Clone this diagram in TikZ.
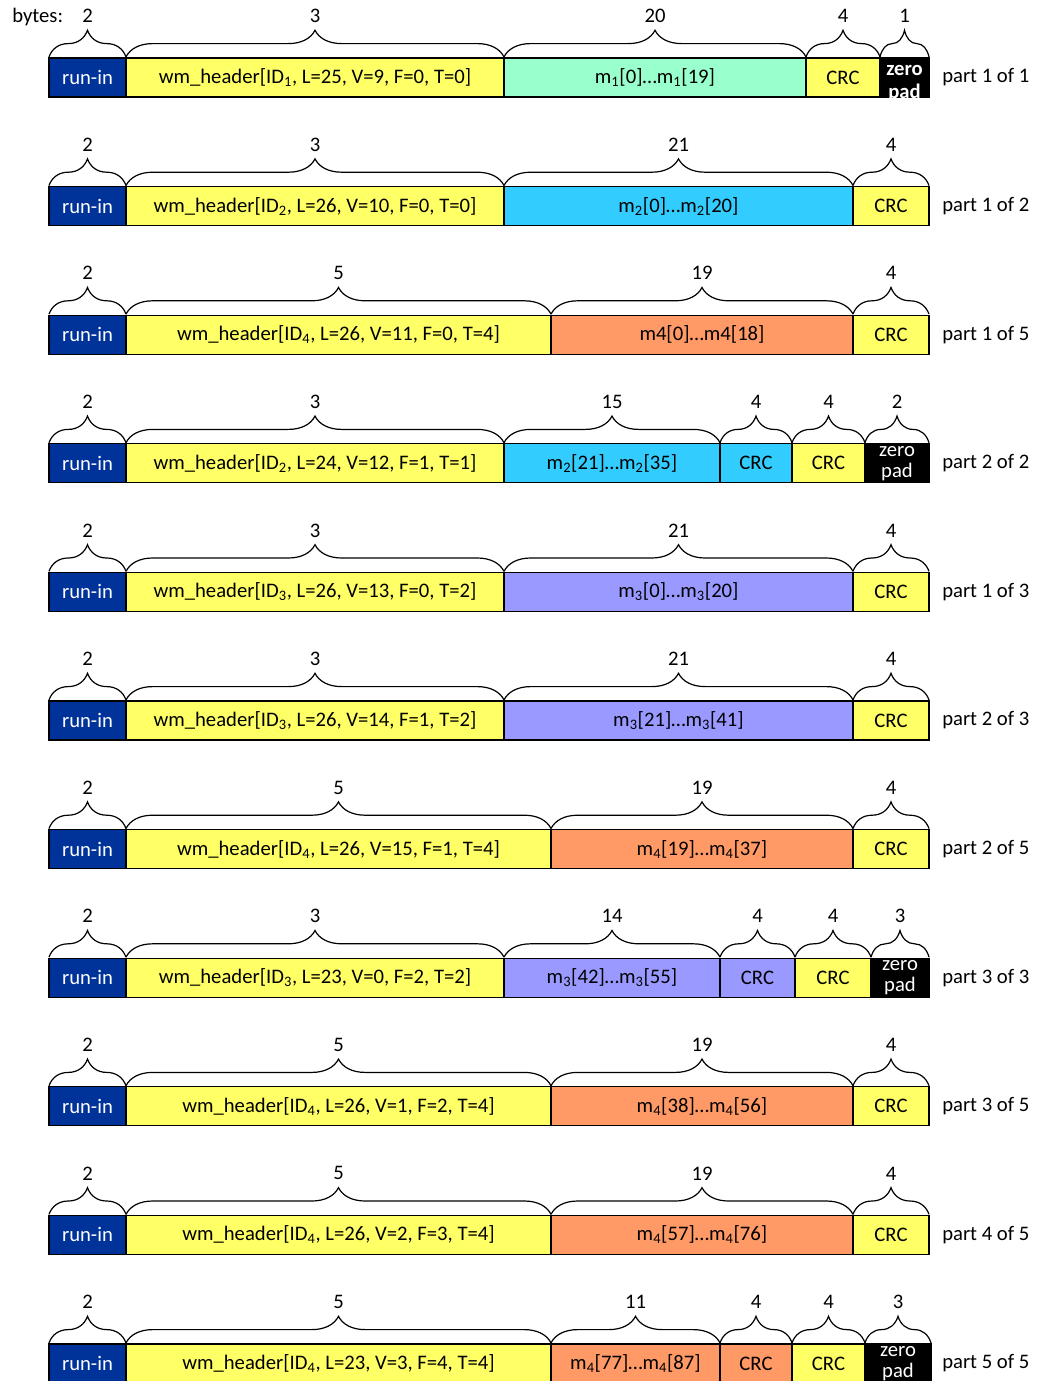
\documentclass[tikz,border=0pt]{standalone}
\usepackage{fontspec}
\setmainfont{Carlito}
\usetikzlibrary{decorations.pathreplacing,calc}
\definecolor{runinc}{RGB}{0,51,153}
\definecolor{yelc}{RGB}{255,255,102}
\definecolor{grnc}{RGB}{153,255,204}
\definecolor{cyac}{RGB}{51,204,255}
\definecolor{orac}{RGB}{255,153,102}
\definecolor{purc}{RGB}{153,153,255}
\newcommand\sbs[1]{\textsubscript{#1}}
\newcommand\mkseg[7]{%
  \pgfmathsetmacro\segtop{58+128.6*(#4-1)}%
  \node[segbox,#5,minimum width={(#3-#2)*0.75pt}] (#1) at ({(#2+#3)/2},{-\segtop-19.5}) {#6};
  \draw[brc] ([yshift=0.8pt]#1.north west) -- ([yshift=0.8pt]#1.north east);
  \node[bytenum] (#1b) at ([yshift=31.5pt]#1.north) {#7};
}
\newcommand\mkpart[2]{%
  \pgfmathsetmacro\segtop{58+128.6*(#1-1)}%
  \node[partlbl] (p#1) at (942,{-\segtop-19.5}) {#2};
}
\begin{document}
\begin{tikzpicture}[x=0.75pt,y=0.75pt,
  every node/.style={font=\fontsize{15.5}{16}\selectfont},
  segbox/.style={draw=black,line width=0.9pt,rectangle,inner sep=0pt,outer sep=0pt,minimum height=29.25pt,align=center},
  runin/.style={fill=runinc,text=white},
  yel/.style={fill=yelc},
  grn/.style={fill=grnc},
  cya/.style={fill=cyac},
  ora/.style={fill=orac},
  pur/.style={fill=purc},
  zpad/.style={fill=black,text=white,font=\fontsize{15.5}{15.8}\selectfont},
  zpadb/.style={fill=black},
  zpadbt/.style={text=white,align=center,inner sep=0pt,font=\fontsize{15.5}{17}\selectfont\bfseries},
  brc/.style={draw=black,line width=0.9pt,decorate,decoration={brace,amplitude=20pt}},
  bytenum/.style={inner sep=0pt},
  partlbl/.style={anchor=west,inner sep=0pt}]
\useasboundingbox (0,0) rectangle (1036,-1381);
\node[anchor=west,inner sep=0pt] (bytes) at (12,-17) {bytes:};
% row 1
\mkseg{aa}{49}{126}{1}{runin}{run-in}{2}
\mkseg{ab}{126}{504}{1}{yel}{wm\_header[ID\sbs{1}, L=25, V=9, F=0, T=0]}{3}
\mkseg{ac}{504}{806}{1}{grn}{m\sbs{1}[0]…m\sbs{1}[19]}{20}
\mkseg{ad}{806}{880}{1}{yel}{CRC}{4}
\mkseg{ae}{880}{929}{1}{zpadb}{}{1}
\node[zpadbt] (aet) at ([yshift=-4.5pt]ae.center) {zero\\pad};
\mkpart{1}{part 1 of 1}
% row 2
\mkseg{ba}{49}{126}{2}{runin}{run-in}{2}
\mkseg{bb}{126}{504}{2}{yel}{wm\_header[ID\sbs{2}, L=26, V=10, F=0, T=0]}{3}
\mkseg{bc}{504}{853}{2}{cya}{m\sbs{2}[0]…m\sbs{2}[20]}{21}
\mkseg{bd}{853}{929}{2}{yel}{CRC}{4}
\mkpart{2}{part 1 of 2}
% row 3
\mkseg{ca}{49}{126}{3}{runin}{run-in}{2}
\mkseg{cb}{126}{551}{3}{yel}{wm\_header[ID\sbs{4}, L=26, V=11, F=0, T=4]}{5}
\mkseg{cc}{551}{853}{3}{ora}{m4[0]…m4[18]}{19}
\mkseg{cd}{853}{929}{3}{yel}{CRC}{4}
\mkpart{3}{part 1 of 5}
% row 4
\mkseg{da}{49}{126}{4}{runin}{run-in}{2}
\mkseg{db}{126}{504}{4}{yel}{wm\_header[ID\sbs{2}, L=24, V=12, F=1, T=1]}{3}
\mkseg{dc}{504}{720}{4}{cya}{m\sbs{2}[21]…m\sbs{2}[35]}{15}
\mkseg{dd}{720}{792}{4}{cya}{CRC}{4}
\mkseg{de}{792}{865}{4}{yel}{CRC}{4}
\mkseg{df}{865}{929}{4}{zpad}{zero\\pad}{2}
\mkpart{4}{part 2 of 2}
% row 5
\mkseg{ea}{49}{126}{5}{runin}{run-in}{2}
\mkseg{eb}{126}{504}{5}{yel}{wm\_header[ID\sbs{3}, L=26, V=13, F=0, T=2]}{3}
\mkseg{ec}{504}{853}{5}{pur}{m\sbs{3}[0]…m\sbs{3}[20]}{21}
\mkseg{ed}{853}{929}{5}{yel}{CRC}{4}
\mkpart{5}{part 1 of 3}
% row 6
\mkseg{fa}{49}{126}{6}{runin}{run-in}{2}
\mkseg{fb}{126}{504}{6}{yel}{wm\_header[ID\sbs{3}, L=26, V=14, F=1, T=2]}{3}
\mkseg{fc}{504}{853}{6}{pur}{m\sbs{3}[21]…m\sbs{3}[41]}{21}
\mkseg{fd}{853}{929}{6}{yel}{CRC}{4}
\mkpart{6}{part 2 of 3}
% row 7
\mkseg{ga}{49}{126}{7}{runin}{run-in}{2}
\mkseg{gb}{126}{551}{7}{yel}{wm\_header[ID\sbs{4}, L=26, V=15, F=1, T=4]}{5}
\mkseg{gc}{551}{853}{7}{ora}{m\sbs{4}[19]…m\sbs{4}[37]}{19}
\mkseg{gd}{853}{929}{7}{yel}{CRC}{4}
\mkpart{7}{part 2 of 5}
% row 8
\mkseg{ha}{49}{126}{8}{runin}{run-in}{2}
\mkseg{hb}{126}{504}{8}{yel}{wm\_header[ID\sbs{3}, L=23, V=0, F=2, T=2]}{3}
\mkseg{hc}{504}{720}{8}{pur}{m\sbs{3}[42]…m\sbs{3}[55]}{14}
\mkseg{hd}{720}{795}{8}{pur}{CRC}{4}
\mkseg{he}{795}{871}{8}{yel}{CRC}{4}
\mkseg{hf}{871}{929}{8}{zpad}{zero\\pad}{3}
\mkpart{8}{part 3 of 3}
% row 9
\mkseg{ia}{49}{126}{9}{runin}{run-in}{2}
\mkseg{ib}{126}{551}{9}{yel}{wm\_header[ID\sbs{4}, L=26, V=1, F=2, T=4]}{5}
\mkseg{ic}{551}{853}{9}{ora}{m\sbs{4}[38]…m\sbs{4}[56]}{19}
\mkseg{id}{853}{929}{9}{yel}{CRC}{4}
\mkpart{9}{part 3 of 5}
% row 10
\mkseg{ja}{49}{126}{10}{runin}{run-in}{2}
\mkseg{jb}{126}{551}{10}{yel}{wm\_header[ID\sbs{4}, L=26, V=2, F=3, T=4]}{5}
\mkseg{jc}{551}{853}{10}{ora}{m\sbs{4}[57]…m\sbs{4}[76]}{19}
\mkseg{jd}{853}{929}{10}{yel}{CRC}{4}
\mkpart{10}{part 4 of 5}
% row 11
\mkseg{ka}{49}{126}{11}{runin}{run-in}{2}
\mkseg{kb}{126}{551}{11}{yel}{wm\_header[ID\sbs{4}, L=23, V=3, F=4, T=4]}{5}
\mkseg{kc}{551}{720}{11}{ora}{m\sbs{4}[77]…m\sbs{4}[87]}{11}
\mkseg{kd}{720}{792}{11}{ora}{CRC}{4}
\mkseg{ke}{792}{865}{11}{yel}{CRC}{4}
\mkseg{kf}{865}{931}{11}{zpad}{zero\\pad}{3}
\mkpart{11}{part 5 of 5}
\end{tikzpicture}
\end{document}
